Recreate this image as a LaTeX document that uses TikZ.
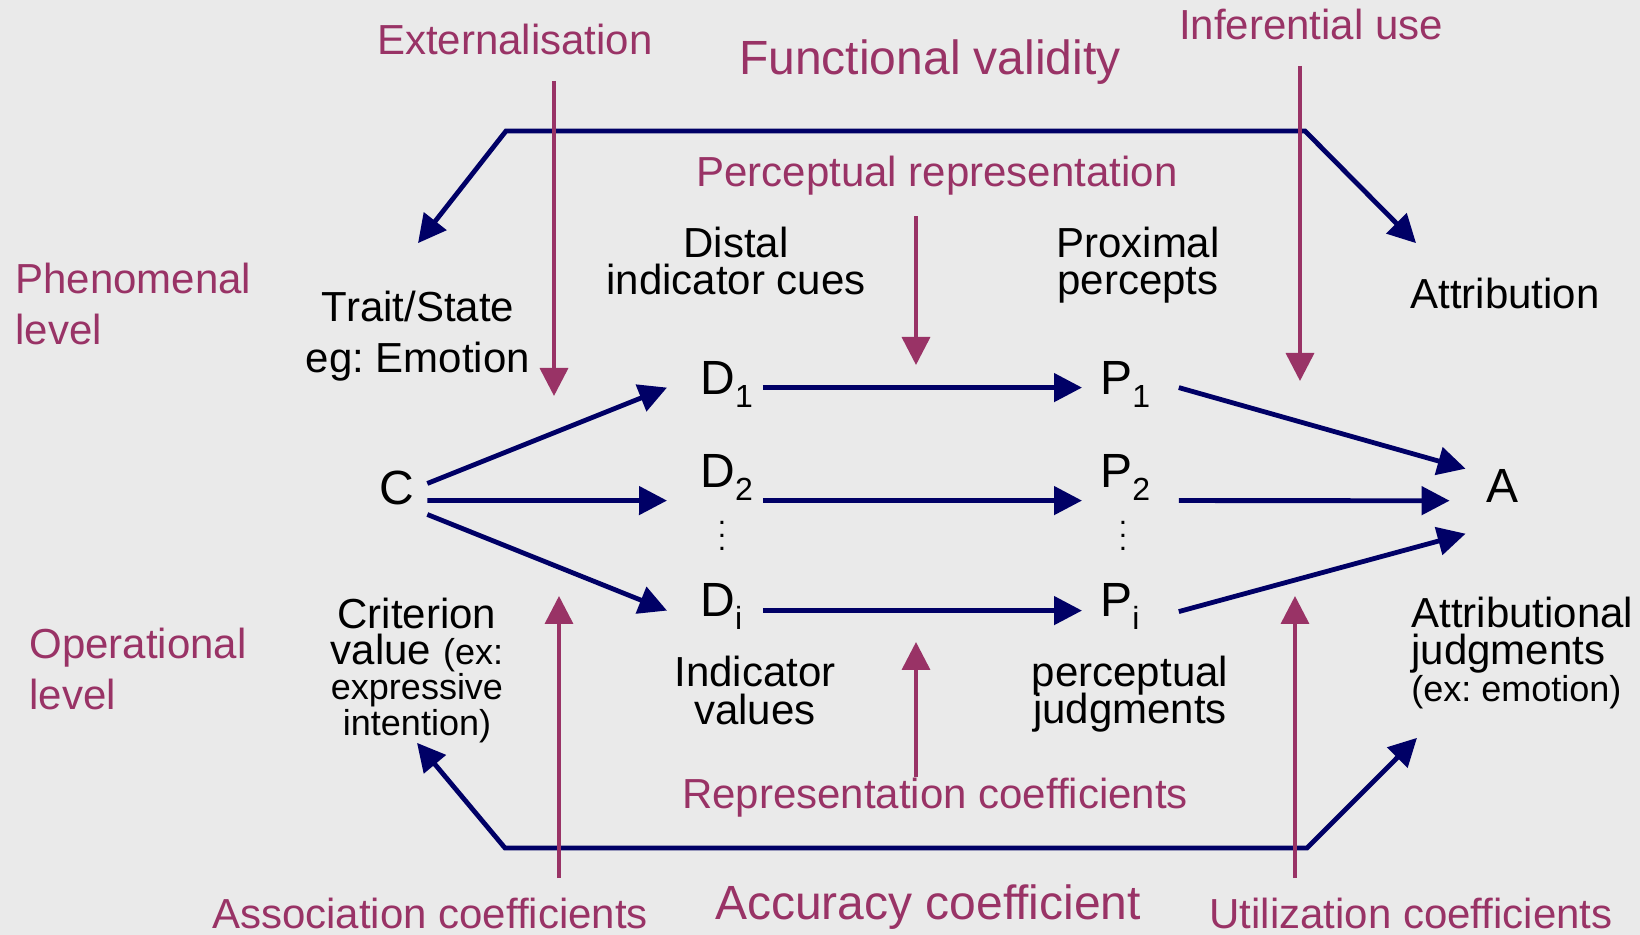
\documentclass[tikz,border=0pt]{standalone}
\usepackage{fontspec}
\setmainfont{Liberation Sans}
\usetikzlibrary{arrows.meta}
\definecolor{lensblue}{HTML}{000066}
\definecolor{lensred}{HTML}{993366}
\definecolor{slidegray}{HTML}{EAEAEA}
\frenchspacing
\newcommand{\setsz}[2]{\fontsize{#1}{#2}\selectfont\lineskiplimit=-20pt}
\newcommand{\exsz}{\fontsize{18}{18}\selectfont}
\newcommand{\lowidx}[1]{\raisebox{-6.5pt}{\fontsize{16}{16}\selectfont #1}}
\newcommand{\dotcol}{\vbox{\baselineskip=6.5pt\lineskiplimit=-20pt\hbox{.}\hbox{.}\hbox{.}}}

\begin{document}
\begin{tikzpicture}[x=0.5pt,y=-0.5pt,>={Triangle[length=14pt,width=14pt]},
lbl/.style={inner sep=0pt,anchor=base,align=center},
coef/.style={lbl,text=lensred,font=\setsz{21}{25.5}},
big/.style={lbl,text=lensred,font=\setsz{24}{28}},
txt/.style={lbl,font=\setsz{21}{18.5}},
var/.style={inner sep=0pt,anchor=base west,text width=27pt,align=left,font=\setsz{24}{28}},
flow/.style={->,line width=2.4pt,lensblue},
infl/.style={->,line width=1.8pt,lensred}]
\path[use as bounding box,fill=slidegray] (0,0) rectangle (1640,935);
% levels and coefficient labels (multi-line nodes sit on their last line)
\node[coef,anchor=base west,align=left] (phen) at (15,345) {Phenomenal\\level};
\node[coef,anchor=base west,align=left] (oper) at (29,710) {Operational\\level};
\node[coef] (ext) at (515,55) {Externalisation};
\node[big] (fval) at (930,75) {Functional validity};
\node[coef] (infer) at (1311,40) {Inferential use};
\node[coef] (prep) at (937,187) {Perceptual representation};
\node[coef] (rcoef) at (935,808) {Representation coefficients};
\node[coef] (acoef) at (430,928) {Association coefficients};
\node[big] (acc) at (928,919) {Accuracy coefficient};
\node[coef] (ucoef) at (1411,928) {Utilization coefficients};
% phenomenal level
\node[txt,font=\setsz{21}{25.5}] (trait) at (418,373) {Trait/State\\eg: Emotion};
\node[txt] (distal) at (736,295) {Distal\\indicator cues};
\node[txt] (prox) at (1138,295) {Proximal\\percepts};
\node[txt] (attr) at (1505,309) {Attribution};
% lens variables
\node[lbl,font=\setsz{24}{28}] (C) at (397,505) {C};
\node[var] (D1) at (700,395) {D\lowidx{1}};
\node[var] (D2) at (700,488) {D\lowidx{2}};
\node[lbl,anchor=center,font=\setsz{15}{15}] (Dd) at (722,536) {\dotcol};
\node[var] (Di) at (700,617) {D\lowidx{i}};
\node[var] (P1) at (1100,395) {P\lowidx{1}};
\node[var] (P2) at (1100,488) {P\lowidx{2}};
\node[lbl,anchor=center,font=\setsz{15}{15}] (Pd) at (1123,536) {\dotcol};
\node[var] (Pi) at (1100,617) {P\lowidx{i}};
\node[lbl,font=\setsz{24}{28}] (A) at (1502,503) {A};
% operational level
\node[txt,font=\setsz{21}{17.75}] (crit) at (417,735) {Criterion\\value {\exsz(ex:}\\{\exsz expressive}\\{\exsz intention)}};
\node[txt,font=\setsz{21}{19}] (indv) at (755,725) {Indicator\\values};
\node[txt,font=\setsz{21}{18}] (pjud) at (1130,723) {perceptual\\judgments};
\node[txt,anchor=base west,align=left] (ajud) at (1411,702) {Attributional\\judgments\\{\exsz(ex: emotion)}};
% functional validity and accuracy
\coordinate (fvl) at (506,131);
\coordinate (fvr) at (1305,131);
\draw[flow,<->] ([yshift=24pt]trait.north) -- (fvl) -- (fvr) -- ([shift={(3pt,17.5pt)}]attr.north west);
\coordinate (acl) at (505,848);
\coordinate (acr) at (1307,848);
\draw[flow,<->] (crit.south) -- (acl) -- (acr) -- ([shift={(3pt,-14pt)}]ajud.south west);
% lens
\draw[flow] ([shift={(6.3pt,2.5pt)}]C.east) -- ([shift={(-16.5pt,-1.3pt)}]D1.west);
\draw[flow] ([shift={(6.3pt,-6pt)}]C.east) -- ([shift={(-16.5pt,-11.3pt)}]D2.west);
\draw[flow] ([shift={(6.3pt,-13pt)}]C.east) -- ([shift={(-16.5pt,-1.8pt)}]Di.west);
\draw[flow] ([shift={(4pt,-1.3pt)}]D1.east) -- ([shift={(-9pt,-1.3pt)}]P1.west);
\draw[flow] ([shift={(4pt,-11.3pt)}]D2.east) -- ([shift={(-9pt,-11.3pt)}]P2.west);
\draw[flow] ([shift={(4pt,-1.8pt)}]Di.east) -- ([shift={(-9pt,-1.8pt)}]Pi.west);
\draw[flow] ([shift={(12pt,-1.3pt)}]P1.east) -- ([shift={(-10pt,8.9pt)}]A.west);
\draw[flow] ([shift={(12pt,-11.3pt)}]P2.east) -- ([shift={(-18pt,-7.1pt)}]A.west);
\draw[flow] ([shift={(12pt,-2.3pt)}]Pi.east) -- ([shift={(-10pt,-23.6pt)}]A.west);
% influences
\coordinate (exttip) at (554,396);
\coordinate (inftip) at (1300,381);
\coordinate (preptip) at (916,365);
\coordinate (rcoeftip) at (916,642);
\coordinate (acoeftip) at (559,596);
\coordinate (ucoeftip) at (1295,596);
\draw[infl,shorten <=12.5pt] (ext.south -| exttip) -- (exttip);
\draw[infl,shorten <=12.5pt] (infer.south -| inftip) -- (inftip);
\draw[infl,shorten <=10pt] (prep.south -| preptip) -- (preptip);
\draw[infl] (rcoef.north -| rcoeftip) -- (rcoeftip);
\draw[infl,shorten <=9.5pt] (acoef.north -| acoeftip) -- (acoeftip);
\draw[infl,shorten <=9.5pt] (ucoef.north -| ucoeftip) -- (ucoeftip);
\end{tikzpicture}
\end{document}
